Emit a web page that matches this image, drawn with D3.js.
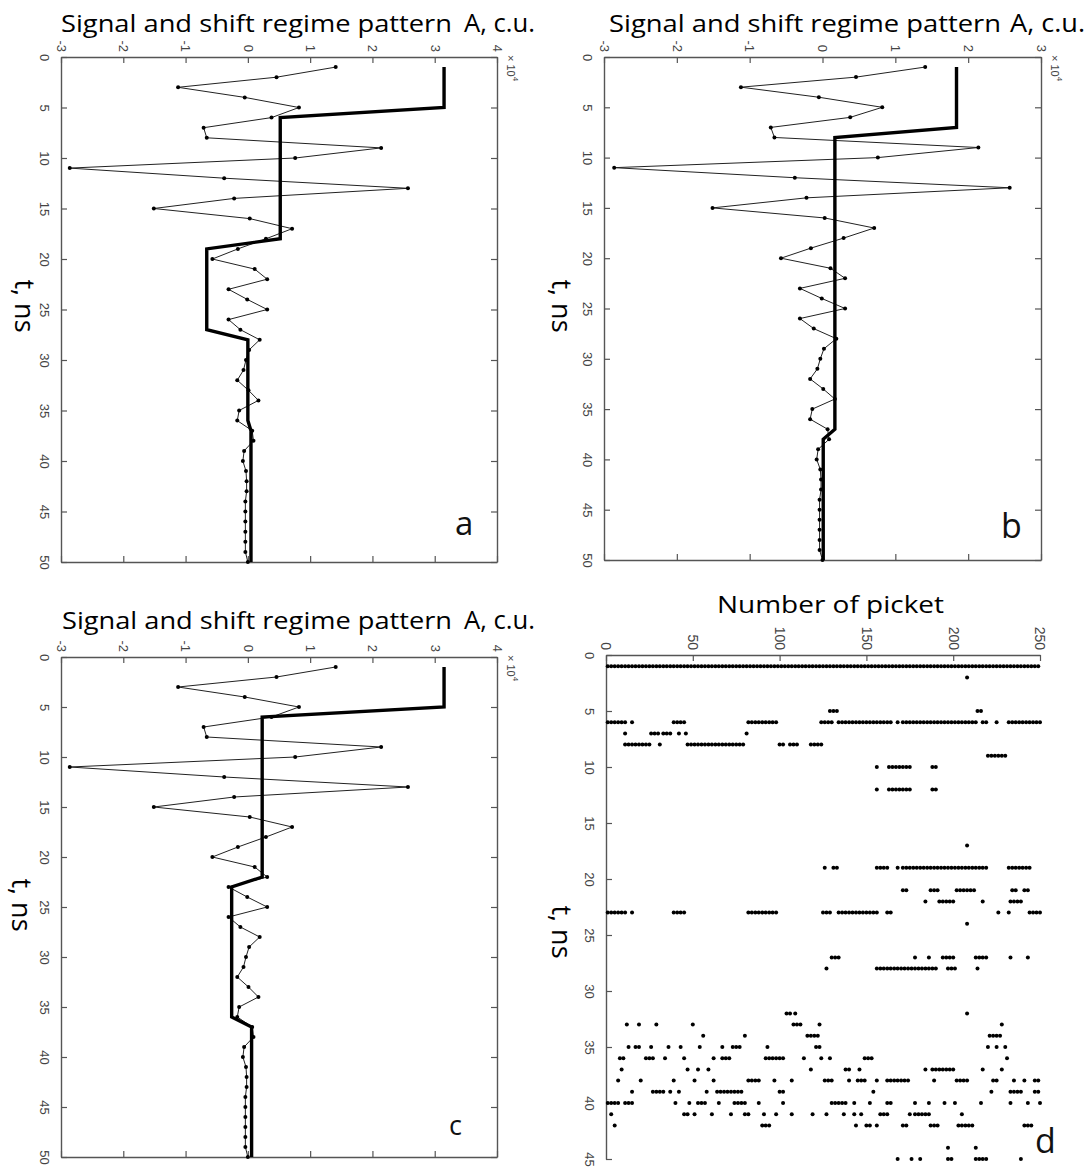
<!DOCTYPE html>
<html>
<head>
<meta charset="utf-8">
<script src="https://cdn.jsdelivr.net/npm/d3@7"></script>
<style>
  body { margin: 0; background: #fff; }
  svg { display: block; }
</style>
</head>
<body>
<script>
const w = 1089;
const h = 1167;

// time samples, ns
const tSamples = [1, 2, 3, 4, 5, 6, 7, 8, 9, 10, 11, 12, 13, 14, 15, 16, 17, 18, 19, 20,
  21, 22, 23, 24, 25, 26, 27, 28, 29, 30, 31, 32, 33, 34, 35, 36, 37, 38, 39, 40,
  41, 42, 43, 44, 45, 46, 47, 48, 49, 50];

// signal, A x 10^4 c.u. (same trace in a, b, c)
const signal = [1.41, 0.46, -1.12, -0.05, 0.82, 0.38, -0.71, -0.66, 2.14, 0.76,
  -2.86, -0.38, 2.57, -0.22, -1.51, 0.03, 0.71, 0.29, -0.16, -0.57,
  0.11, 0.31, -0.31, -0.01, 0.31, -0.31, -0.12, 0.19, 0.02, -0.03,
  -0.07, -0.17, 0.01, 0.17, -0.14, -0.17, 0.07, 0.09, -0.06, -0.08,
  -0.03, -0.02, -0.02, -0.04, -0.04, -0.04, -0.04, -0.04, -0.04, 0.0];

// shift regime patterns
const shiftA = [3.15, 3.15, 3.15, 3.15, 3.15, 0.52, 0.52, 0.52, 0.52, 0.52,
  0.52, 0.52, 0.52, 0.52, 0.52, 0.52, 0.52, 0.52, -0.66, -0.66,
  -0.66, -0.66, -0.66, -0.66, -0.66, -0.66, -0.66, 0.0, 0.0, 0.0,
  0.0, 0.0, 0.0, 0.0, 0.0, 0.0, 0.05, 0.05, 0.05, 0.05,
  0.05, 0.05, 0.05, 0.05, 0.05, 0.05, 0.05, 0.05, 0.05, 0.05];
const shiftB = [1.84, 1.84, 1.84, 1.84, 1.84, 1.84, 1.84, 0.17, 0.17, 0.17,
  0.17, 0.17, 0.17, 0.17, 0.17, 0.17, 0.17, 0.17, 0.17, 0.17,
  0.17, 0.17, 0.17, 0.17, 0.17, 0.17, 0.17, 0.17, 0.17, 0.17,
  0.17, 0.17, 0.17, 0.17, 0.17, 0.17, 0.17, 0.01, 0.01, 0.01,
  0.01, 0.01, 0.01, 0.01, 0.01, 0.01, 0.01, 0.01, 0.01, 0.01];
const shiftC = [3.15, 3.15, 3.15, 3.15, 3.15, 0.23, 0.23, 0.23, 0.23, 0.23,
  0.23, 0.23, 0.23, 0.23, 0.23, 0.23, 0.23, 0.23, 0.23, 0.23,
  0.23, 0.23, -0.26, -0.26, -0.26, -0.26, -0.26, -0.26, -0.26, -0.26,
  -0.26, -0.26, -0.26, -0.26, -0.26, -0.26, 0.06, 0.06, 0.06, 0.06,
  0.06, 0.06, 0.06, 0.06, 0.06, 0.06, 0.06, 0.06, 0.06, 0.06];

// tick labels
const aTicksWide = [-3, -2, -1, 0, 1, 2, 3, 4];
const aTicksNarrow = [-3, -2, -1, 0, 1, 2, 3];
const tTicks = [0, 5, 10, 15, 20, 25, 30, 35, 40, 45, 50];
const tTicksD = [0, 5, 10, 15, 20, 25, 30, 35, 40, 45];
const picketTicks = [0, 50, 100, 150, 200, 250];

// panel d: detected pickets, runs of [t, first picket, last picket]
const picketRuns = [
  [1, 1, 250],
  [2, 208, 208],
  [5, 129, 133], [5, 214, 216],
  [6, 1, 11], [6, 15, 15], [6, 39, 45], [6, 82, 98], [6, 124, 130], [6, 134, 164], [6, 168, 168],
  [6, 171, 214], [6, 217, 220], [6, 225, 225], [6, 232, 250],
  [7, 11, 11], [7, 26, 31], [7, 33, 38], [7, 42, 42], [7, 46, 46], [7, 81, 81],
  [8, 11, 26], [8, 31, 31], [8, 47, 80], [8, 100, 102], [8, 106, 110], [8, 118, 124],
  [9, 220, 231],
  [10, 156, 156], [10, 163, 176], [10, 188, 191],
  [12, 156, 156], [12, 163, 176], [12, 188, 191],
  [17, 208, 208],
  [19, 126, 127], [19, 131, 133], [19, 156, 162], [19, 168, 168], [19, 171, 220], [19, 232, 245],
  [21, 171, 174], [21, 187, 192], [21, 202, 212], [21, 234, 236], [21, 241, 244],
  [22, 184, 184], [22, 192, 201], [22, 217, 217], [22, 233, 240],
  [23, 1, 11], [23, 15, 15], [23, 39, 45], [23, 82, 98], [23, 125, 130], [23, 134, 156],
  [23, 162, 165], [23, 226, 226], [23, 232, 232], [23, 244, 250],
  [24, 208, 208],
  [27, 130, 134], [27, 178, 178], [27, 186, 186], [27, 194, 201], [27, 213, 220], [27, 233, 233], [27, 243, 243],
  [28, 127, 127], [28, 156, 191], [28, 197, 201], [28, 214, 214],
  [32, 104, 106], [32, 109, 110], [32, 208, 208],
  [33, 12, 12], [33, 19, 19], [33, 29, 29], [33, 50, 50], [33, 108, 113], [33, 123, 123], [33, 228, 228],
  [34, 56, 56], [34, 80, 80], [34, 116, 122], [34, 221, 227],
  [35, 13, 13], [35, 17, 19], [35, 26, 26], [35, 36, 36], [35, 43, 43], [35, 54, 54], [35, 67, 67],
  [35, 73, 77], [35, 93, 93], [35, 121, 123], [35, 220, 220], [35, 225, 225], [35, 230, 230],
  [36, 8, 11], [36, 23, 27], [36, 34, 35], [36, 45, 45], [36, 62, 62], [36, 67, 71], [36, 92, 103],
  [36, 114, 114], [36, 124, 124], [36, 129, 129], [36, 149, 154], [36, 231, 231],
  [37, 9, 9], [37, 47, 47], [37, 53, 53], [37, 59, 59], [37, 118, 118], [37, 138, 141], [37, 146, 146],
  [37, 184, 184], [37, 188, 201], [37, 217, 217], [37, 228, 228],
  [38, 7, 7], [38, 20, 20], [38, 39, 39], [38, 51, 51], [38, 62, 62], [38, 82, 89], [38, 97, 97],
  [38, 107, 107], [38, 126, 130], [38, 140, 140], [38, 145, 149], [38, 156, 156], [38, 162, 175],
  [38, 189, 189], [38, 202, 208], [38, 223, 225], [38, 235, 235], [38, 241, 241], [38, 247, 250],
  [39, 15, 15], [39, 27, 34], [39, 37, 37], [39, 42, 42], [39, 58, 58], [39, 64, 78], [39, 100, 102],
  [39, 154, 154], [39, 222, 222], [39, 233, 240], [39, 247, 250],
  [40, 1, 7], [40, 11, 16], [40, 40, 40], [40, 48, 48], [40, 53, 57], [40, 65, 65], [40, 74, 81],
  [40, 88, 88], [40, 102, 102], [40, 130, 138], [40, 143, 143], [40, 152, 152], [40, 162, 165],
  [40, 178, 178], [40, 186, 186], [40, 195, 195], [40, 201, 201], [40, 216, 216], [40, 233, 233],
  [40, 243, 243], [40, 250, 250],
  [41, 3, 3], [41, 45, 47], [41, 51, 51], [41, 61, 61], [41, 72, 72], [41, 80, 83], [41, 91, 91],
  [41, 98, 98], [41, 107, 107], [41, 119, 119], [41, 127, 127], [41, 137, 137], [41, 143, 143],
  [41, 147, 147], [41, 158, 162], [41, 175, 175], [41, 178, 187], [41, 205, 205],
  [42, 5, 5], [42, 90, 95], [42, 144, 144], [42, 150, 153], [42, 156, 156], [42, 171, 174],
  [42, 187, 192], [42, 203, 212], [42, 241, 246],
  [44, 197, 197], [44, 213, 213],
  [45, 168, 168], [45, 176, 176], [45, 181, 181], [45, 197, 200], [45, 213, 220], [45, 239, 239]
];

const svg = d3.select("body").append("svg").attr("width", w).attr("height", h);

const axisColor = "#555";
const labelFont = "'Liberation Sans', Arial, sans-serif";
const titleFont = "'Open Sans', 'Noto Sans', sans-serif";

function styleAxis(g) {
  g.select(".domain").attr("stroke", axisColor).attr("stroke-width", 1.4);
  g.selectAll(".tick line").attr("stroke", axisColor).attr("stroke-width", 1.2);
}

// top axis labels: rotated, read top to bottom, ending above the axis
function rotateTopLabels(g, size) {
  g.selectAll(".tick text")
    .attr("transform", "rotate(90)")
    .attr("x", -5)
    .attr("y", size * 0.36)
    .attr("dy", null)
    .attr("text-anchor", "end")
    .attr("fill", "#444")
    .style("font", size + "px " + labelFont);
}

function rotateLeftLabels(g, size, off) {
  g.selectAll(".tick text")
    .attr("transform", "rotate(90)")
    .attr("x", 0)
    .attr("y", off)
    .attr("dy", null)
    .attr("text-anchor", "middle")
    .attr("fill", "#444")
    .style("font", size + "px " + labelFont);
}

function addTitle(x0, x1, x2, x3, base, main, unit) {
  svg.append("text").attr("x", x0).attr("y", base)
    .attr("textLength", x1 - x0).attr("lengthAdjust", "spacingAndGlyphs")
    .style("font", "500 24px " + titleFont).attr("fill", "#000").text(main);
  if (unit) {
    svg.append("text").attr("x", x2).attr("y", base)
      .attr("textLength", x3 - x2).attr("lengthAdjust", "spacingAndGlyphs")
      .style("font", "500 26px " + titleFont).attr("fill", "#000").text(unit);
  }
}

function addTLabel(x, yMid) {
  svg.append("text")
    .attr("transform", "translate(" + x + "," + yMid + ") rotate(90)")
    .attr("text-anchor", "middle")
    .style("font", "500 27px " + titleFont).attr("fill", "#000")
    .text("t, ns");
}

function addLetter(x, y, size, s) {
  svg.append("text").attr("x", x).attr("y", y)
    .style("font", size + "px " + titleFont).attr("fill", "#111").text(s);
}

function drawSignalPanel(box, aDomain, aTicks, shift) {
  const xScale = d3.scaleLinear().domain(aDomain).range([box.x0, box.x1]);
  const yScale = d3.scaleLinear().domain([0, 50]).range([box.y0, box.y1]);

  const g = svg.append("g");

  g.append("g").attr("transform", "translate(0," + box.y0 + ")")
    .call(d3.axisTop(xScale).tickValues(aTicks).tickSizeInner(-6).tickSizeOuter(0).tickFormat(d => String(d)))
    .call(styleAxis).call(ax => rotateTopLabels(ax, 13));
  g.append("g").attr("transform", "translate(0," + box.y1 + ")")
    .call(d3.axisBottom(xScale).tickValues(aTicks).tickSizeInner(-6).tickSizeOuter(0).tickFormat(""))
    .call(styleAxis);
  g.append("g").attr("transform", "translate(" + box.x0 + ",0)")
    .call(d3.axisLeft(yScale).tickValues(tTicks).tickSizeInner(-6).tickSizeOuter(0).tickFormat(d => String(d)))
    .call(styleAxis).call(ax => rotateLeftLabels(ax, 13, 21));
  g.append("g").attr("transform", "translate(" + box.x1 + ",0)")
    .call(d3.axisRight(yScale).tickValues(tTicks).tickSizeInner(-6).tickSizeOuter(0).tickFormat(""))
    .call(styleAxis);

  // x 10^4 multiplier
  const m = g.append("text")
    .attr("transform", "translate(" + (box.x1 + 10) + "," + (box.y0 - 2) + ") rotate(90)")
    .style("font", "11px " + labelFont).attr("fill", "#444");
  m.append("tspan").text("\u00d7 10");
  m.append("tspan").attr("dy", -6).style("font-size", "8px").text("4");

  const sig = tSamples.map((t, i) => ({ t: t, a: signal[i] }));
  const pat = tSamples.map((t, i) => ({ t: t, a: shift[i] }));
  const line = d3.line().x(d => xScale(d.a)).y(d => yScale(d.t));

  g.append("path").datum(sig).attr("d", line)
    .attr("fill", "none").attr("stroke", "#222").attr("stroke-width", 1);
  g.append("path").datum(pat).attr("d", line)
    .attr("fill", "none").attr("stroke", "#000").attr("stroke-width", 3.4)
    .attr("stroke-linejoin", "miter");
  g.selectAll(".mark").data(sig).enter().append("circle")
    .attr("class", "mark")
    .attr("cx", d => xScale(d.a)).attr("cy", d => yScale(d.t))
    .attr("r", 2).attr("fill", "#000");
}

// panel a
drawSignalPanel({ x0: 61, x1: 497, y0: 57, y1: 562 }, [-3, 4], aTicksWide, shiftA);
addTitle(61, 452, 464, 535, 32, "Signal and shift regime pattern", "A, c.u.");
addTLabel(15, 306);
addLetter(455, 535, 33, "a");

// panel b
drawSignalPanel({ x0: 604, x1: 1041, y0: 57, y1: 560 }, [-3, 3], aTicksNarrow, shiftB);
addTitle(609, 1001, 1010, 1085, 32, "Signal and shift regime pattern", "A, c.u.");
addTLabel(552, 306);
addLetter(1001, 538, 34, "b");

// panel c
drawSignalPanel({ x0: 61, x1: 497, y0: 657, y1: 1157 }, [-3, 4], aTicksWide, shiftC);
addTitle(62, 452, 464, 535, 629, "Signal and shift regime pattern", "A, c.u.");
addTLabel(12, 905);
addLetter(449, 1135, 27, "c");

// panel d
(function () {
  const box = { x0: 606, x1: 1040, y0: 655, y1: 1159 };
  const xScale = d3.scaleLinear().domain([0, 250]).range([box.x0, box.x1]);
  const yScale = d3.scaleLinear().domain([0, 45]).range([box.y0, box.y1]);
  const g = svg.append("g");

  g.append("g").attr("transform", "translate(0," + box.y0 + ")")
    .call(d3.axisTop(xScale).tickValues(picketTicks).tickSizeInner(-6).tickSizeOuter(0).tickFormat(d => String(d)))
    .call(styleAxis).call(ax => rotateTopLabels(ax, 14));
  g.append("g").attr("transform", "translate(" + box.x0 + ",0)")
    .call(d3.axisLeft(yScale).tickValues(tTicksD).tickSizeInner(-6).tickSizeOuter(0).tickFormat(d => String(d)))
    .call(styleAxis).call(ax => rotateLeftLabels(ax, 13, 21));

  const pts = [];
  picketRuns.forEach(function (r) {
    for (let p = r[1]; p <= r[2]; p += 2) pts.push({ t: r[0], p: p });
  });

  g.selectAll(".pk").data(pts).enter().append("circle")
    .attr("class", "pk")
    .attr("cx", d => xScale(d.p)).attr("cy", d => yScale(d.t))
    .attr("r", 2).attr("fill", "#000");
})();
addTitle(717, 944, 0, 0, 613, "Number of picket", null);
addTLabel(552, 932);
addLetter(1035, 1153, 34, "d");
</script>
</body>
</html>
